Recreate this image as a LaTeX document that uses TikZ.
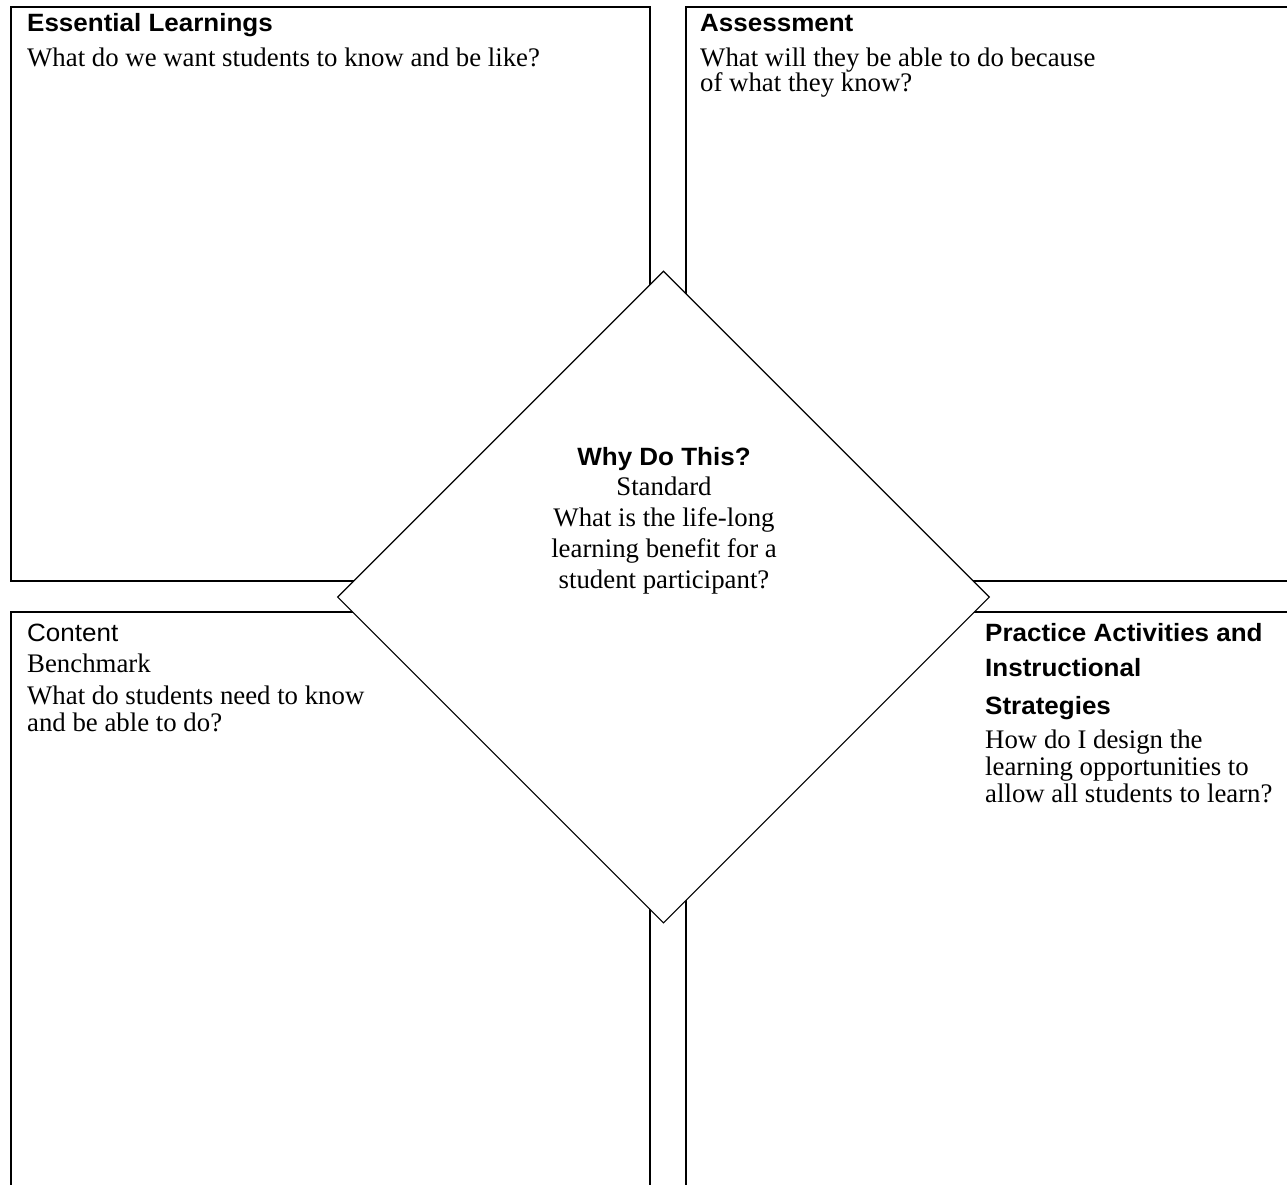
\documentclass[tikz,border=0pt]{standalone}
\usepackage{fontspec}
\setmainfont{Liberation Serif}
\newfontfamily\hfont{Liberation Sans}[FakeStretch=1.04]
\usetikzlibrary{shapes.geometric}
\tikzset{
  quad/.style={draw=black, line width=2pt, fill=none, inner sep=0pt, anchor=north west},
  gem/.style={draw=black, line width=1.1pt, fill=white, diamond, aspect=1, inner sep=0pt, minimum width=652pt, minimum height=652pt},
  head/.style={anchor=base west, inner sep=0pt, font=\hfont\bfseries\fontsize{25}{29}\selectfont},
  headr/.style={anchor=base west, inner sep=0pt, font=\hfont\fontsize{25}{29}\selectfont},
  body/.style={anchor=base west, inner sep=0pt, font=\fontsize{26.8}{30}\selectfont},
  chead/.style={anchor=base, inner sep=0pt, font=\hfont\bfseries\fontsize{25}{29}\selectfont},
  cbody/.style={anchor=base, inner sep=0pt, font=\fontsize{26.8}{30}\selectfont}
}
\begin{document}
\begin{tikzpicture}[x=1pt, y=-1pt]
\useasboundingbox (0,0) rectangle (1287,1184);
\clip (0,0) rectangle (1287,1184);
% quadrant boxes
\node[quad, minimum width=639pt, minimum height=574pt] (el) at (10,6) {};
\node[quad, minimum width=700pt, minimum height=574pt] (as) at (685,6) {};
\node[quad, minimum width=639pt, minimum height=700pt] (ct) at (10,611) {};
\node[quad, minimum width=700pt, minimum height=700pt] (pa) at (685,611) {};
% central diamond
\node[gem] (why) at (663.5,597) {};
% Essential Learnings
\node[head] (elh) at (27,31) {Essential Learnings};
\node[body] (elb) at (27,66) {What do we want students to know and be like?};
% Assessment
\node[head] (ash) at (700,31) {Assessment};
\node[body] (asb1) at (700,66) {What will they be able to do because};
\node[body] (asb2) at (700,91) {of what they know?};
% Content
\node[headr] (cth) at (27,641) {Content};
\node[body] (ctb1) at (27,672) {Benchmark};
\node[body] (ctb2) at (27,704) {What do students need to know};
\node[body] (ctb3) at (27,731) {and be able to do?};
% Practice
\node[head] (pah1) at (985,641) {Practice Activities and};
\node[head] (pah2) at (985,676) {Instructional};
\node[head] (pah3) at (985,714) {Strategies};
\node[body] (pab1) at (985,748) {How do I design the};
\node[body] (pab2) at (985,775) {learning opportunities to};
\node[body] (pab3) at (985,802) {allow all students to learn?};
% center text
\node[chead] (wh) at (664,465) {Why Do This?};
\node[cbody] (wb1) at (664,495) {Standard};
\node[cbody] (wb2) at (664,526) {What is the life-long};
\node[cbody] (wb3) at (664,557) {learning benefit for a};
\node[cbody] (wb4) at (664,588) {student participant?};
\end{tikzpicture}
\end{document}
